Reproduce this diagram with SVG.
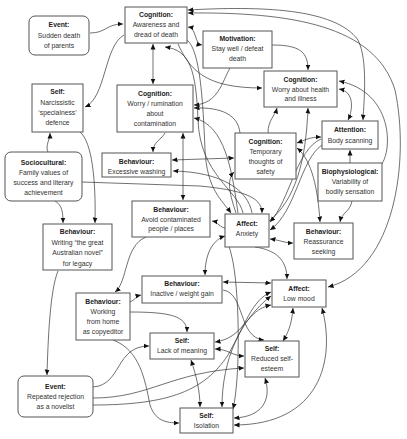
<svg xmlns="http://www.w3.org/2000/svg" width="407" height="439" viewBox="0 0 407 439">
<style>
.bg{fill:#fff}
.box{fill:#fff;stroke:#555;stroke-width:1}
.t{font-family:"Liberation Sans",Arial,sans-serif;font-size:6.8px;fill:#333;text-anchor:middle}
.h{font-weight:bold;fill:#222}
.c path{fill:none;stroke:#333;stroke-width:0.7}
.e{marker-end:url(#a)}
.b{marker-start:url(#a);marker-end:url(#a)}
</style>
<defs>
<marker id="a" viewBox="0 0 10 10" refX="10" refY="5" markerWidth="5.5" markerHeight="5.5" markerUnits="userSpaceOnUse" orient="auto-start-reverse"><path d="M0,0.5 L10,5 L0,9.5 z" fill="#111"/></marker>
</defs>
<rect class="bg" x="0" y="0" width="407" height="439"/>
<g id="connectors" class="c">
<path class="e" d="M90,33 C106,33 106,24 123,24"/>
<path class="b" d="M153,44 L153,84"/>
<path class="e" d="M124,35 C104,46 106,98 85,107"/>
<path class="b" d="M188,27 C197,28 194,44 202,45"/>
<path class="e" d="M272,45 C300,45 308,52 308,70"/>
<path class="e" d="M230,68 C222,82 218,104 194,105"/>
<path class="e" d="M178,44 C190,70 205,88 262,88"/>
<path class="b" d="M188,10 C260,6 335,8 358,40 C368,60 364,100 363,120"/>
<path class="b" d="M188,13 C290,12 375,25 395,90 C410,160 395,270 328,287"/>
<path class="e" d="M381,165 C393,150 393,92 339,81"/>
<path class="b" d="M339,89 C356,92 352,112 348,120"/>
<path class="e" d="M350,163 L350,150"/>
<path class="e" d="M268,133 C268,120 275,116 277,108"/>
<path class="e" d="M268,222 C296,200 306,160 308,108"/>
<path class="e" d="M240,133 C238,115 222,107 194,108"/>
<path class="e" d="M238,213 C232,170 225,125 194,118"/>
<path class="e" d="M187,40 C200,50 203,100 205,150 C207,190 222,200 231,213"/>
<path class="e" d="M243,213 C238,190 200,175 198,120 C196,70 190,50 165,47"/>
<path class="e" d="M165,133 C160,141 153,142 153,152"/>
<path class="b" d="M172,160 L234,158"/>
<path class="e" d="M252,213 C248,190 222,172 173,171"/>
<path class="b" d="M183,133 L183,200"/>
<path class="e" d="M82,182 L200,186 C240,190 262,196 262,213"/>
<path class="e" d="M226,228 C220,228 218,222 212,221"/>
<path class="e" d="M146,237 C124,246 128,282 115,292"/>
<path class="e" d="M55,201 C62,205 63,212 63,223"/>
<path class="e" d="M80,132 C92,142 96,180 95,223"/>
<path class="e" d="M48,152 C45,145 50,140 50,133"/>
<path class="e" d="M58,271 C50,290 48,340 47,375"/>
<path class="b" d="M205,275 C205,255 212,240 225,236"/>
<path class="b" d="M233,409 C240,380 240,300 233,262 C230,248 228,242 225,239"/>
<path class="b" d="M223,282 L271,283"/>
<path class="e" d="M223,290 C245,293 238,338 264,340"/>
<path class="b" d="M222,407 C222,360 240,320 271,296"/>
<path class="b" d="M215,342 C245,338 245,310 271,305"/>
<path class="e" d="M93,387 C122,385 115,346 149,346"/>
<path class="e" d="M93,398 C150,398 170,372 244,368"/>
<path class="e" d="M93,405 C170,405 205,390 228,355 C245,325 252,300 271,292"/>
<path class="e" d="M130,302 C135,300 136,296 141,295"/>
<path class="e" d="M130,312 C170,312 187,316 187,332"/>
<path class="e" d="M113,340 C140,350 145,380 150,405 C155,420 165,423 179,423"/>
<path class="b" d="M191,360 C196,375 200,390 200,407"/>
<path class="b" d="M215,349 C228,349 232,356 244,356"/>
<path class="b" d="M283,341 C290,330 292,320 293,308"/>
<path class="b" d="M265,378 C272,400 262,417 234,418"/>
<path class="b" d="M322,308 C336,360 320,425 234,425"/>
<path class="e" d="M255,247 C276,250 287,260 287,279"/>
<path class="b" d="M270,239 C280,240 284,243 293,243"/>
<path class="e" d="M352,201 C350,212 342,212 340,222"/>
<path class="b" d="M297,148 C312,160 318,190 320,222"/>
<path class="e" d="M321,139 C296,150 290,200 270,222"/>
<path class="e" d="M322,145 C300,160 296,212 270,230"/>
<path class="b" d="M297,143 C305,140 310,137 321,137"/>
<path class="e" d="M236,213 C230,195 226,180 234,172"/>
</g>
<g id="n1"><rect class="box" x="29" y="16" width="60" height="39" rx="6"/><text class="t" x="59" y="27.4"><tspan class="h">Event:</tspan><tspan x="59" y="38">Sudden death</tspan><tspan x="59" y="48.4">of parents</tspan></text></g>
<g id="n2"><rect class="box" x="125" y="7" width="62" height="36"/><text class="t" x="156" y="17.4"><tspan class="h">Cognition:</tspan><tspan x="156" y="27.4">Awareness and</tspan><tspan x="156" y="37.4">dread of death</tspan></text></g>
<g id="n3"><rect class="box" x="203" y="31" width="69" height="37"/><text class="t" x="237.5" y="40.5"><tspan class="h">Motivation:</tspan><tspan x="237.5" y="50.5">Stay well / defeat</tspan><tspan x="237.5" y="60.5">death</tspan></text></g>
<g id="n4"><rect class="box" x="264" y="71" width="73" height="36"/><text class="t" x="300.5" y="82"><tspan class="h">Cognition:</tspan><tspan x="300.5" y="91.7">Worry about health</tspan><tspan x="300.5" y="101.4">and illness</tspan></text></g>
<g id="n5"><rect class="box" x="32" y="84" width="51" height="48"/><text class="t" x="57.5" y="94.4"><tspan class="h">Self:</tspan><tspan x="57.5" y="104.6">Narcissistic</tspan><tspan x="57.5" y="114.8">‘specialness’</tspan><tspan x="57.5" y="125">defence</tspan></text></g>
<g id="n6"><rect class="box" x="117" y="85" width="76" height="47"/><text class="t" x="155" y="96.4"><tspan class="h">Cognition:</tspan><tspan x="155" y="106">Worry / rumination</tspan><tspan x="155" y="116.3">about</tspan><tspan x="155" y="126.4">contamination</tspan></text></g>
<g id="n7"><rect class="box" x="322" y="121" width="56" height="28"/><text class="t" x="350" y="131.5"><tspan class="h">Attention:</tspan><tspan x="350" y="142.5">Body scanning</tspan></text></g>
<g id="n8"><rect class="box" x="235" y="133" width="61" height="46"/><text class="t" x="265.5" y="144"><tspan class="h">Cognition:</tspan><tspan x="265.5" y="154">Temporary</tspan><tspan x="265.5" y="164">thoughts of</tspan><tspan x="265.5" y="174">safety</tspan></text></g>
<g id="n9"><rect class="box" x="318" y="163" width="64" height="38"/><text class="t" x="350" y="174"><tspan class="h">Biophysiological:</tspan><tspan x="350" y="184">Variability of</tspan><tspan x="350" y="194">bodily sensation</tspan></text></g>
<g id="n10"><rect class="box" x="5" y="152" width="77" height="49" rx="6"/><text class="t" x="43.5" y="164.5"><tspan class="h">Sociocultural:</tspan><tspan x="43.5" y="174.5">Family values of</tspan><tspan x="43.5" y="184.5">success and literary</tspan><tspan x="43.5" y="194.5">achievement</tspan></text></g>
<g id="n11"><rect class="box" x="102" y="153" width="69" height="24"/><text class="t" x="136.5" y="163.9"><tspan class="h">Behaviour:</tspan><tspan x="136.5" y="173.9">Excessive washing</tspan></text></g>
<g id="n12"><rect class="box" x="132" y="201" width="78" height="36"/><text class="t" x="171" y="212"><tspan class="h">Behaviour:</tspan><tspan x="171" y="221.7">Avoid contaminated</tspan><tspan x="171" y="231.4">people / places</tspan></text></g>
<g id="n13"><rect class="box" x="225" y="214" width="44" height="33"/><text class="t" x="247" y="226"><tspan class="h">Affect:</tspan><tspan x="247" y="236">Anxiety</tspan></text></g>
<g id="n14"><rect class="box" x="294" y="223" width="59" height="36"/><text class="t" x="323.5" y="234"><tspan class="h">Behaviour:</tspan><tspan x="323.5" y="244">Reassurance</tspan><tspan x="323.5" y="254">seeking</tspan></text></g>
<g id="n15"><rect class="box" x="43" y="224" width="69" height="46"/><text class="t" x="77.5" y="234"><tspan class="h">Behaviour:</tspan><tspan x="77.5" y="244.5">Writing “the great</tspan><tspan x="77.5" y="255">Australian novel”</tspan><tspan x="77.5" y="265.5">for legacy</tspan></text></g>
<g id="n16"><rect class="box" x="142" y="276" width="80" height="27"/><text class="t" x="182" y="286.4"><tspan class="h">Behaviour:</tspan><tspan x="182" y="296.4">Inactive / weight gain</tspan></text></g>
<g id="n17"><rect class="box" x="76" y="293" width="54" height="47"/><text class="t" x="103" y="304"><tspan class="h">Behaviour:</tspan><tspan x="103" y="314">Working</tspan><tspan x="103" y="324">from home</tspan><tspan x="103" y="334">as copyeditor</tspan></text></g>
<g id="n18"><rect class="box" x="272" y="280" width="54" height="27"/><text class="t" x="299" y="290.7"><tspan class="h">Affect:</tspan><tspan x="299" y="300.7">Low mood</tspan></text></g>
<g id="n19"><rect class="box" x="150" y="333" width="64" height="26"/><text class="t" x="182" y="343"><tspan class="h">Self:</tspan><tspan x="182" y="353">Lack of meaning</tspan></text></g>
<g id="n20"><rect class="box" x="245" y="341" width="54" height="36"/><text class="t" x="272" y="350.7"><tspan class="h">Self:</tspan><tspan x="272" y="361.2">Reduced self-</tspan><tspan x="272" y="371.4">esteem</tspan></text></g>
<g id="n21"><rect class="box" x="18" y="376" width="75" height="41" rx="6"/><text class="t" x="55.5" y="389"><tspan class="h">Event:</tspan><tspan x="55.5" y="399">Repeated rejection</tspan><tspan x="55.5" y="409">as a novelist</tspan></text></g>
<g id="n22"><rect class="box" x="180" y="408" width="53" height="25"/><text class="t" x="206.5" y="418"><tspan class="h">Self:</tspan><tspan x="206.5" y="428.4">Isolation</tspan></text></g>
</svg>
